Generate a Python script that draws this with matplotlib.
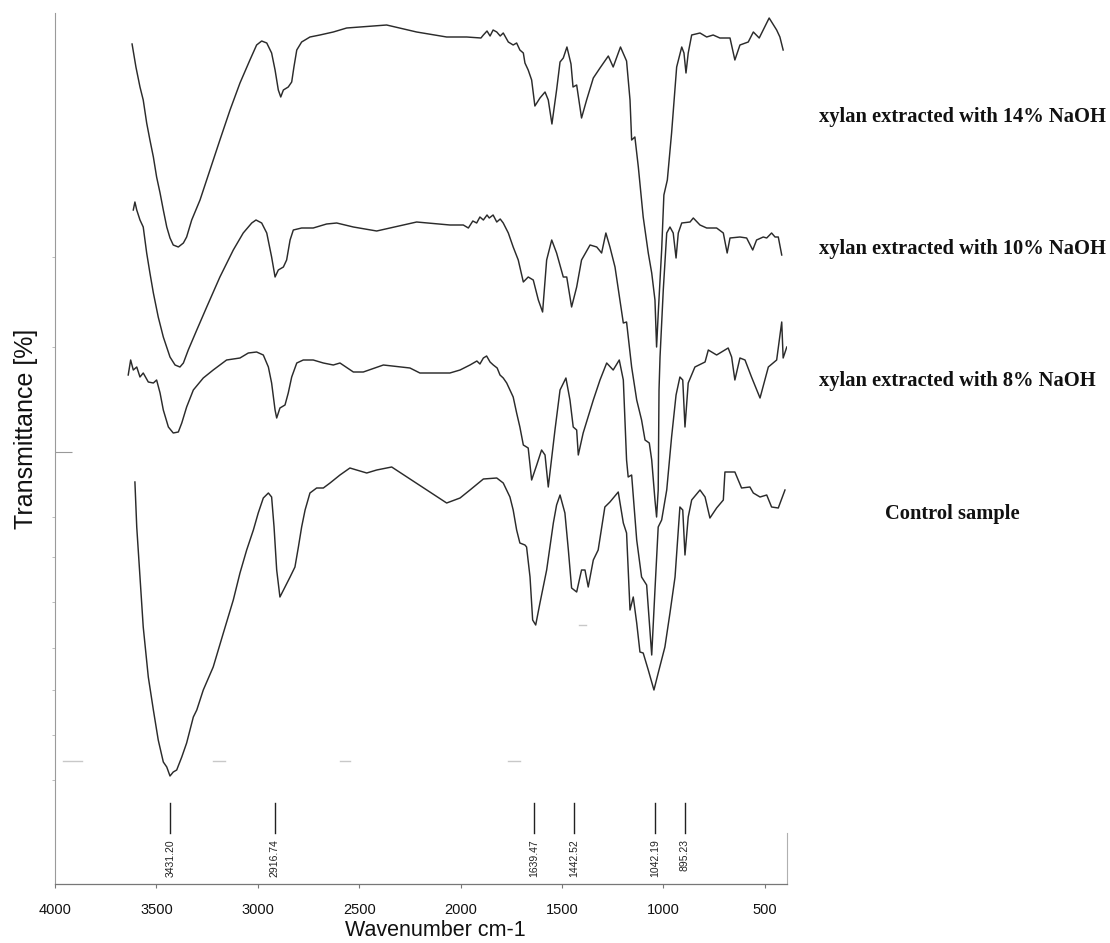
import matplotlib
matplotlib.use("Agg")
import matplotlib.pyplot as plt
import numpy as np

# ---------------- data (wavenumber cm-1, transmittance a.u.) ----------------
xylan_14 = [(3620, 84.0), (3601, 81.7), (3581, 79.7), (3565, 78.4), (3548, 76.1), (3532, 74.4),
            (3515, 72.7), (3499, 70.7), (3482, 69.1), (3466, 67.4), (3449, 65.7), (3433, 64.6),
            (3417, 63.9), (3392, 63.7), (3367, 64.1), (3351, 64.7), (3326, 66.4), (3285, 68.4),
            (3236, 71.4), (3187, 74.4), (3137, 77.4), (3088, 80.1), (3039, 82.4), (3006, 83.9),
            (2981, 84.3), (2956, 84.1), (2932, 83.1), (2915, 81.4), (2899, 79.4), (2887, 78.7),
            (2874, 79.4), (2850, 79.7), (2833, 80.2), (2822, 81.7), (2808, 83.4), (2784, 84.2),
            (2743, 84.7), (2694, 84.9), (2628, 85.2), (2562, 85.6), (2365, 85.9), (2217, 85.2),
            (2069, 84.7), (1970, 84.7), (1900, 84.6), (1888, 84.9), (1870, 85.3), (1855, 84.8),
            (1840, 85.4), (1822, 85.2), (1805, 84.8), (1790, 85.1), (1765, 84.2), (1741, 83.9),
            (1724, 84.1), (1708, 83.4), (1691, 83.1), (1683, 82.1), (1667, 81.4), (1650, 80.4),
            (1634, 77.8), (1609, 78.6), (1584, 79.2), (1568, 78.4), (1550, 76.0), (1527, 79.4),
            (1510, 82.2), (1494, 82.6), (1476, 83.7), (1456, 82.0), (1446, 79.7), (1428, 79.9),
            (1404, 76.6), (1379, 78.4), (1346, 80.6), (1313, 81.6), (1272, 82.8), (1248, 81.7),
            (1212, 83.7), (1182, 82.3), (1165, 78.4), (1157, 74.4), (1141, 74.7), (1124, 71.7),
            (1100, 66.7), (1075, 63.1), (1058, 61.1), (1042, 58.4), (1034, 53.7), (1025, 57.4),
            (1009, 63.4), (998, 68.9), (981, 70.4), (960, 75.1), (935, 81.7), (910, 83.7),
            (899, 83.1), (889, 81.1), (878, 83.1), (861, 84.9), (820, 85.1), (787, 84.7),
            (755, 84.9), (722, 84.6), (672, 84.6), (648, 82.4), (623, 83.9), (582, 84.2),
            (557, 85.2), (528, 84.6), (479, 86.6), (442, 85.4), (426, 84.7), (410, 83.4)]

xylan_10 = [(3614, 67.4), (3606, 68.2), (3597, 67.4), (3581, 66.4), (3565, 65.7), (3548, 63.1),
            (3532, 61.1), (3515, 59.1), (3491, 56.7), (3466, 54.7), (3433, 52.7), (3408, 51.9),
            (3384, 51.7), (3367, 52.1), (3343, 53.4), (3301, 55.4), (3252, 57.7), (3187, 60.7),
            (3121, 63.4), (3072, 65.1), (3030, 66.1), (3009, 66.4), (2981, 66.1), (2956, 65.1),
            (2932, 62.7), (2915, 60.7), (2899, 61.4), (2874, 61.7), (2858, 62.4), (2841, 64.4),
            (2825, 65.4), (2784, 65.6), (2727, 65.6), (2661, 66.0), (2611, 66.1), (2529, 65.7),
            (2414, 65.3), (2217, 66.2), (2053, 65.9), (1987, 65.9), (1962, 65.6), (1940, 66.3),
            (1921, 66.1), (1905, 66.7), (1888, 66.4), (1870, 66.9), (1859, 66.6), (1840, 66.9),
            (1822, 66.2), (1805, 66.5), (1790, 66.1), (1765, 65.1), (1741, 63.7), (1716, 62.4),
            (1691, 60.2), (1667, 60.7), (1642, 60.4), (1617, 58.4), (1596, 57.2), (1576, 62.4),
            (1551, 64.4), (1527, 63.1), (1494, 60.7), (1477, 60.7), (1453, 57.7), (1428, 59.7),
            (1404, 62.4), (1362, 63.9), (1329, 63.7), (1305, 63.1), (1284, 65.1), (1264, 63.7),
            (1239, 61.7), (1198, 56.1), (1182, 56.2), (1157, 51.7), (1132, 48.4), (1108, 46.4),
            (1091, 44.4), (1070, 44.1), (1058, 42.4), (1042, 38.4), (1034, 36.7), (1026, 39.4),
            (1022, 49.4), (1017, 52.7), (1001, 59.4), (984, 65.1), (968, 65.7), (952, 65.1),
            (938, 62.6), (927, 65.1), (910, 66.1), (869, 66.2), (853, 66.6), (820, 65.9),
            (787, 65.6), (738, 65.6), (705, 65.1), (686, 63.1), (672, 64.6), (623, 64.7),
            (590, 64.6), (560, 63.4), (541, 64.4), (508, 64.7), (491, 64.6), (467, 65.1),
            (450, 64.7), (434, 64.7), (417, 62.9)]

xylan_8 = [(3639, 50.9), (3627, 52.4), (3614, 51.4), (3597, 51.7), (3581, 50.7), (3565, 51.1),
           (3540, 50.2), (3515, 50.1), (3499, 50.4), (3482, 49.1), (3466, 47.4), (3441, 45.7),
           (3417, 45.1), (3392, 45.2), (3375, 46.1), (3351, 47.7), (3318, 49.4), (3269, 50.6),
           (3220, 51.4), (3154, 52.4), (3088, 52.6), (3047, 53.1), (3006, 53.2), (2973, 52.9),
           (2948, 51.7), (2932, 50.1), (2915, 47.4), (2907, 46.6), (2891, 47.6), (2866, 47.9),
           (2850, 49.1), (2833, 50.7), (2808, 52.1), (2776, 52.4), (2727, 52.4), (2677, 52.1),
           (2628, 51.9), (2595, 52.1), (2529, 51.2), (2480, 51.2), (2381, 51.9), (2250, 51.6),
           (2201, 51.1), (2053, 51.1), (2003, 51.4), (1954, 51.9), (1920, 52.3), (1905, 52.0),
           (1888, 52.6), (1872, 52.8), (1855, 52.2), (1839, 51.9), (1820, 51.6), (1806, 50.9),
           (1790, 50.6), (1773, 50.1), (1741, 48.7), (1724, 47.1), (1708, 45.7), (1691, 43.9),
           (1667, 43.6), (1650, 40.4), (1625, 41.9), (1601, 43.4), (1584, 42.9), (1568, 39.7),
           (1535, 45.4), (1510, 49.4), (1481, 50.6), (1461, 48.4), (1445, 45.7), (1428, 45.4),
           (1420, 42.9), (1396, 45.1), (1346, 48.4), (1313, 50.4), (1280, 52.1), (1248, 51.4),
           (1218, 52.4), (1198, 50.4), (1182, 42.4), (1174, 40.7), (1157, 40.9), (1132, 34.4),
           (1108, 30.7), (1083, 29.9), (1058, 22.9), (1042, 29.4), (1026, 35.7), (1009, 36.4),
           (984, 39.4), (960, 44.7), (938, 48.9), (919, 50.7), (905, 50.4), (894, 45.7),
           (878, 50.1), (845, 51.7), (795, 52.2), (779, 53.4), (738, 52.9), (681, 53.6),
           (664, 52.7), (648, 50.4), (623, 52.6), (598, 52.4), (566, 50.7), (524, 48.6),
           (483, 51.7), (442, 52.4), (417, 56.2), (410, 52.6), (392, 53.7)]

control = [(3606, 40.2), (3597, 35.7), (3581, 30.7), (3565, 25.7), (3540, 20.7), (3515, 17.4),
           (3491, 14.4), (3466, 12.2), (3449, 11.7), (3433, 10.8), (3417, 11.2), (3400, 11.4),
           (3375, 12.7), (3351, 14.1), (3318, 16.7), (3301, 17.4), (3269, 19.4), (3220, 21.7),
           (3170, 25.1), (3121, 28.4), (3088, 31.1), (3055, 33.4), (3022, 35.4), (2998, 37.1),
           (2973, 38.6), (2948, 39.1), (2932, 38.7), (2920, 35.7), (2907, 31.4), (2891, 28.7),
           (2866, 29.7), (2841, 30.7), (2817, 31.7), (2800, 33.7), (2784, 35.7), (2767, 37.4),
           (2743, 39.1), (2710, 39.6), (2677, 39.6), (2644, 40.1), (2595, 40.9), (2546, 41.6),
           (2513, 41.4), (2463, 41.1), (2414, 41.4), (2340, 41.7), (2069, 38.1), (2003, 38.6),
           (1954, 39.4), (1888, 40.5), (1822, 40.6), (1790, 40.1), (1757, 38.7), (1741, 37.4),
           (1724, 35.4), (1708, 34.1), (1683, 33.9), (1675, 33.7), (1658, 30.7), (1645, 26.4),
           (1630, 25.9), (1609, 28.1), (1576, 31.4), (1543, 36.1), (1527, 37.9), (1510, 38.9),
           (1486, 37.1), (1469, 33.4), (1453, 29.6), (1428, 29.2), (1404, 31.4), (1387, 31.4),
           (1371, 29.7), (1346, 32.4), (1322, 33.4), (1289, 37.7), (1264, 38.2), (1223, 39.2),
           (1198, 36.1), (1182, 35.1), (1165, 27.4), (1149, 28.7), (1132, 26.1), (1116, 23.2),
           (1100, 23.1), (1075, 21.4), (1047, 19.4), (1026, 21.1), (993, 23.7), (968, 27.1),
           (943, 30.7), (919, 37.7), (905, 37.4), (894, 32.9), (878, 36.7), (861, 38.4),
           (820, 39.4), (795, 38.7), (771, 36.6), (738, 37.6), (705, 38.4), (697, 41.2),
           (648, 41.2), (615, 39.6), (574, 39.7), (557, 39.1), (524, 38.7), (491, 38.9),
           (467, 37.7), (434, 37.6), (401, 39.4)]

series = [xylan_14, xylan_10, xylan_8, control]
series_labels = ["xylan extracted with 14% NaOH", "xylan extracted with 10% NaOH",
                 "xylan extracted with 8% NaOH", "Control sample"]

peak_positions = [3431.20, 2916.74, 1639.47, 1442.52, 1042.19, 895.23]
peak_labels = ["3431.20", "2916.74", "1639.47", "1442.52", "1042.19", "895.23"]

x_ticks = [4000, 3500, 3000, 2500, 2000, 1500, 1000, 500]
x_tick_labels = ["4000", "3500", "3000", "2500", "2000", "1500", "1000", "500"]

# faint scan marks on the chart (wavenumber start, end, level)
scan_marks = [(3961, 3867, 12.3), (3221, 3162, 12.3), (2595, 2546, 12.3), (1767, 1708, 12.3),
              (1417, 1382, 25.9)]

# ---------------- figure ----------------
W, H = 1110, 943
fig = plt.figure(figsize=(W / 100, H / 100), dpi=100)
fig.patch.set_facecolor("white")
ax = fig.add_axes([55 / W, 59 / H, (787 - 55) / W, (884 - 13) / H])
ax.set_xlim(4000, 391)
ax.set_ylim(0, 87.1)

line_color = "#2b2b2b"
for s in series:
    wn, t = zip(*s)
    ax.plot(wn, t, color=line_color, lw=1.05, solid_joinstyle="round")

# peak markers
for p, lab in zip(peak_positions, peak_labels):
    ax.plot([p, p], [5.1, 8.1], color="#222222", lw=1.0)
    ax.text(p, 4.5, lab, rotation=90, ha="center", va="top",
            fontsize=7.5, family="Liberation Sans", color="#222222")

for a, b, lvl in scan_marks:
    ax.plot([a, b], [lvl, lvl], color="#c8c8c8", lw=1.0)

# spines
for side in ("top", "right"):
    ax.spines[side].set_visible(False)
ax.spines["left"].set_color("#9a9a9a")
ax.spines["left"].set_linewidth(0.8)
ax.spines["bottom"].set_color("#777777")
ax.spines["bottom"].set_linewidth(0.9)
ax.plot([391, 391], [0, 5.1], color="#b0b0b0", lw=0.8, clip_on=False)

ax.set_xticks(x_ticks)
ax.set_xticklabels(x_tick_labels, family="Liberation Sans", fontsize=10.5, color="#111111")
ax.tick_params(axis="x", direction="out", length=3, width=0.8, color="#777777", pad=11)

ax.set_yticks([43.2])
ax.set_yticklabels([])
ax.tick_params(axis="y", direction="in", length=12, width=0.8, color="#999999")
ax.set_yticks([62.7, 53.7, 36.7, 32.7, 28.2, 23.6, 19.4, 14.9, 10.4], minor=True)
ax.tick_params(axis="y", which="minor", direction="out", length=2.5, width=0.7, color="#bbbbbb")

# axis titles
fig.text(435 / W, 1 - 931 / H, "Wavenumber cm-1", ha="center", va="center",
         family="Liberation Sans", fontsize=15.5, color="#111111")
fig.text(26 / W, 1 - 429 / H, "Transmittance [%]", ha="center", va="center", rotation=90,
         family="Liberation Sans", fontsize=18, color="#111111")

# series labels
label_pos = [(819, 117), (819, 249), (819, 381), (885, 514)]
for (px, py), lab in zip(label_pos, series_labels):
    fig.text(px / W, 1 - py / H, lab, ha="left", va="center",
             family="Liberation Serif", fontweight="bold", fontsize=14.8, color="#111111")

fig.savefig("out.png", dpi=100, facecolor="white")
